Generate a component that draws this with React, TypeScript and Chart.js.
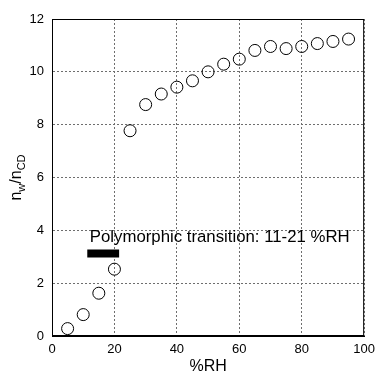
import React, { useEffect, useRef } from "react";
import { Chart, registerables } from "chart.js";

Chart.register(...registerables);

const rhValues = [5, 10, 15, 20, 25, 30, 35, 40, 45, 50, 55, 60, 65, 70, 75, 80, 85, 90, 95];
const ratioValues = [0.28, 0.81, 1.62, 2.53, 7.77, 8.76, 9.16, 9.42, 9.66, 10.0, 10.29, 10.48, 10.81, 10.96, 10.88, 10.96, 11.07, 11.15, 11.24];
const transitionRange = [11.3, 21.5];
const transitionLevel = 3.12;
const annotationText = "Polymorphic transition: 11-21 %RH";
const annotationPos = { x: 12.1, y: 3.75 };
const xTicks = [0, 20, 40, 60, 80, 100];
const yTicks = [0, 2, 4, 6, 8, 10, 12];
const xTitle = "%RH";

const FONT = "'Liberation Sans', Arial, Helvetica, sans-serif";

const overlayPlugin = {
  id: "overlay",
  afterDatasetsDraw(chart: any) {
    const ctx = chart.ctx;
    const { left, right, top, bottom } = chart.chartArea;
    const xs = chart.scales.x;
    const ys = chart.scales.y;
    ctx.save();
    ctx.strokeStyle = "#000";
    ctx.lineWidth = 1;
    ctx.setLineDash([]);
    ctx.strokeRect(left + 0.5, top + 0.5, right - left - 1, bottom - top - 1);
    ctx.fillStyle = "#000";
    ctx.font = `16.8px ${FONT}`;
    ctx.textAlign = "left";
    ctx.textBaseline = "middle";
    ctx.fillText(annotationText, xs.getPixelForValue(annotationPos.x), ys.getPixelForValue(annotationPos.y));
    ctx.font = `16px ${FONT}`;
    ctx.textAlign = "center";
    ctx.textBaseline = "middle";
    ctx.fillText(xTitle, (left + right) / 2, bottom + 31);
    const cy = (top + bottom) / 2;
    ctx.translate(21, cy);
    ctx.rotate(-Math.PI / 2);
    const big = `16px ${FONT}`;
    const small = `11px ${FONT}`;
    const parts: [string, boolean][] = [["n", false], ["w", true], ["/", false], ["n", false], ["CD", true]];
    let total = 0;
    for (const [t, sub] of parts) {
      ctx.font = sub ? small : big;
      total += ctx.measureText(t).width;
    }
    let px = -total / 2;
    ctx.textAlign = "left";
    ctx.textBaseline = "alphabetic";
    for (const [t, sub] of parts) {
      ctx.font = sub ? small : big;
      ctx.fillText(t, px, sub ? 4 : 0);
      px += ctx.measureText(t).width;
    }
    ctx.restore();
  },
};

export default function App() {
  const ref = useRef<HTMLCanvasElement>(null);
  useEffect(() => {
    document.body.style.margin = "0";
    const chart = new Chart(ref.current!, {
      type: "scatter",
      data: {
        datasets: [
          {
            label: "ratio",
            data: rhValues.map((x, i) => ({ x, y: ratioValues[i] })),
            pointStyle: "circle",
            pointRadius: 6,
            pointBorderWidth: 1,
            pointBorderColor: "#000",
            pointBackgroundColor: "rgba(255,255,255,0)",
            showLine: false,
          },
          {
            label: "transition",
            type: "line",
            data: transitionRange.map((x) => ({ x, y: transitionLevel })),
            borderColor: "#000",
            borderWidth: 8,
            borderCapStyle: "butt",
            pointRadius: 0,
            showLine: true,
          } as any,
        ],
      },
      options: {
        animation: false,
        responsive: false,
        devicePixelRatio: 1,
        layout: { padding: { left: 0, right: 12, top: 19, bottom: 0 } },
        plugins: { legend: { display: false }, tooltip: { enabled: false } },
        scales: {
          x: {
            type: "linear",
            min: 0,
            max: 100,
            afterBuildTicks: (s: any) => { s.ticks = xTicks.map((v) => ({ value: v })); },
            afterFit: (s: any) => { s.height = 40; },
            ticks: { color: "#000", font: { family: FONT, size: 13 }, padding: 6, maxRotation: 0 },
            grid: { color: "#6e6e6e", lineWidth: 1, drawTicks: false, tickLength: 0 },
            border: { display: true, color: "#000", dash: [2, 2] },
          },
          y: {
            type: "linear",
            min: 0,
            max: 12,
            afterBuildTicks: (s: any) => { s.ticks = yTicks.map((v) => ({ value: v })); },
            afterFit: (s: any) => { s.width = 52; },
            ticks: { color: "#000", font: { family: FONT, size: 13 }, padding: 8 },
            grid: { color: "#6e6e6e", lineWidth: 1, drawTicks: false, tickLength: 0 },
            border: { display: true, color: "#000", dash: [2, 2] },
          },
        },
      } as any,
      plugins: [overlayPlugin],
    });
    return () => chart.destroy();
  }, []);
  return <canvas ref={ref} width={381} height={376} style={{ display: "block" }} />;
}
